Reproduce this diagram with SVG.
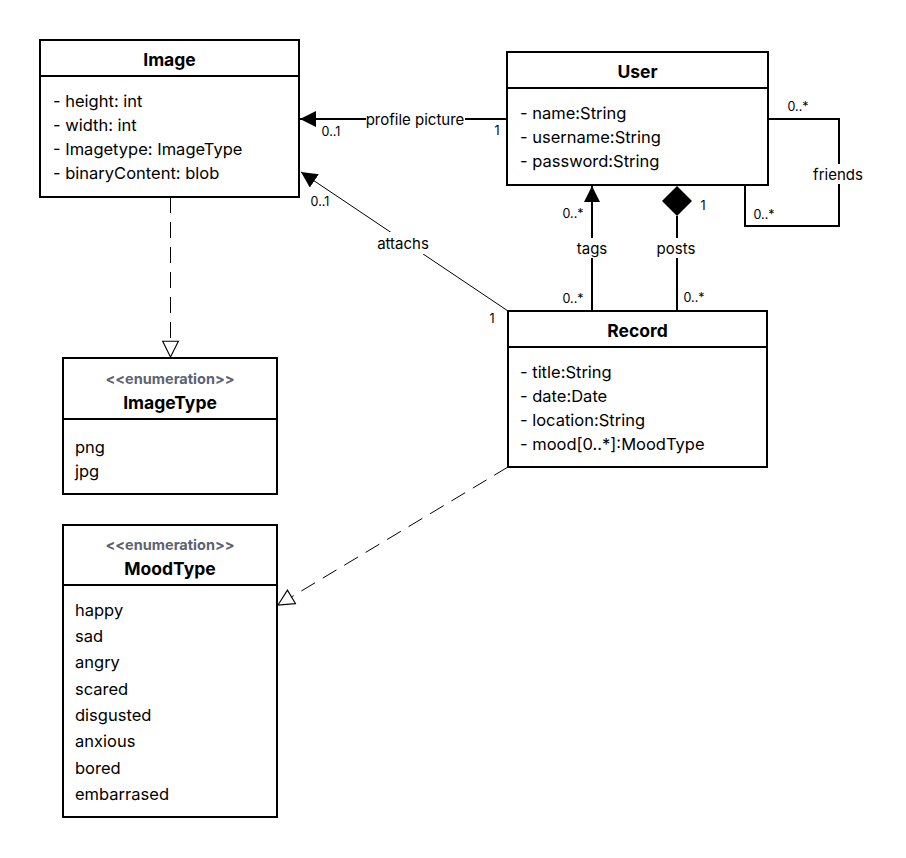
<svg xmlns="http://www.w3.org/2000/svg" width="906" height="858" viewBox="0 0 906 858">
  <defs>
    <style>
      .box { fill: #ffffff; stroke: #000000; stroke-width: 2; }
      .sep { stroke: #000000; stroke-width: 2; }
      .title { font-family: Inter, "Liberation Sans", sans-serif; font-size: 17.5px; font-weight: bold; fill: #000000; text-anchor: middle; dominant-baseline: central; }
      .stereo { font-family: Inter, "Liberation Sans", sans-serif; font-size: 14.5px; font-weight: bold; fill: #5c6370; text-anchor: middle; dominant-baseline: central; }
      .attr { font-family: Inter, "Liberation Sans", sans-serif; font-size: 16.5px; fill: #000000; dominant-baseline: central; }
      .lbl { font-family: Inter, "Liberation Sans", sans-serif; font-size: 15px; fill: #000000; text-anchor: middle; dominant-baseline: central; }
      .mult { font-family: Inter, "Liberation Sans", sans-serif; font-size: 12.5px; fill: #000000; text-anchor: middle; dominant-baseline: central; }
      .assoc { fill: none; stroke: #000000; stroke-width: 2; }
      .thin { fill: none; stroke: #000000; stroke-width: 1; }
      .dashed { fill: none; stroke: #000000; stroke-width: 1; stroke-dasharray: 16 9; }
      .bg { fill: #ffffff; }
    </style>
    <marker id="arrowFilled" markerUnits="userSpaceOnUse" markerWidth="16" markerHeight="16" viewBox="0 0 14 14" refX="14" refY="7" orient="auto">
      <path d="M0,0 L14,7 L0,14 Z" fill="#000000"/>
    </marker>
    <marker id="arrowHollow" markerUnits="userSpaceOnUse" markerWidth="18" markerHeight="18" viewBox="-1 -1 16 16" refX="14" refY="7" orient="auto">
      <path d="M0,0 L14,7 L0,14 Z" fill="#ffffff" stroke="#000000" stroke-width="1"/>
    </marker>
  </defs>

  <rect width="906" height="858" fill="#ffffff"/>

  <!-- connectors -->
  <g id="connectors">
    <!-- User -> Image : profile picture -->
    <line class="assoc" x1="507" y1="119" x2="300" y2="119" marker-end="url(#arrowFilled)"/>
    <rect class="bg" x="366" y="110" width="99" height="18"/>
    <text class="lbl" x="415" y="119">profile picture</text>
    <text class="mult" x="331" y="131">0..1</text>
    <text class="mult" x="497" y="130">1</text>

    <!-- Record -> Image : attachs -->
    <line class="thin" x1="508" y1="311" x2="301" y2="172" marker-end="url(#arrowFilled)"/>
    <rect class="bg" x="375" y="232" width="56" height="22"/>
    <text class="lbl" x="403" y="243">attachs</text>
    <text class="mult" x="320" y="201">0..1</text>
    <text class="mult" x="492" y="318">1</text>

    <!-- Record -> User : tags -->
    <line class="assoc" x1="592" y1="311" x2="592" y2="186" marker-end="url(#arrowFilled)"/>
    <rect class="bg" x="575" y="238" width="34" height="20"/>
    <text class="lbl" x="592" y="248">tags</text>
    <text class="mult" x="573" y="213">0..*</text>
    <text class="mult" x="573" y="298">0..*</text>

    <!-- User <>- Record : posts (composition) -->
    <line class="assoc" x1="677" y1="216" x2="677" y2="311"/>
    <path d="M677,186 L692,201 L677,216 L662,201 Z" fill="#000000"/>
    <rect class="bg" x="655" y="238" width="43" height="20"/>
    <text class="lbl" x="676" y="248">posts</text>
    <text class="mult" x="703" y="205">1</text>
    <text class="mult" x="694" y="297">0..*</text>

    <!-- User self-association : friends -->
    <polyline class="assoc" points="768,119 839,119 839,226 745,226 745,185"/>
    <rect class="bg" x="812" y="164" width="52" height="20"/>
    <text class="lbl" x="838" y="174">friends</text>
    <text class="mult" x="798" y="106">0..*</text>
    <text class="mult" x="764" y="214">0..*</text>

    <!-- Image uses ImageType -->
    <line class="dashed" x1="170.5" y1="197" x2="170.5" y2="357" marker-end="url(#arrowHollow)"/>

    <!-- Record uses MoodType -->
    <line class="dashed" x1="508" y1="467" x2="278" y2="605" marker-end="url(#arrowHollow)"/>
  </g>

  <!-- Image -->
  <g id="image">
    <rect class="box" x="40" y="40" width="259" height="157"/>
    <line class="sep" x1="40" y1="76" x2="299" y2="76"/>
    <text class="title" x="169.5" y="59">Image</text>
    <text class="attr" x="53" y="101">- height: int</text>
    <text class="attr" x="53" y="125">- width: int</text>
    <text class="attr" x="53" y="149">- Imagetype: ImageType</text>
    <text class="attr" x="53" y="173">- binaryContent: blob</text>
  </g>

  <!-- User -->
  <g id="user">
    <rect class="box" x="507" y="52" width="261" height="133"/>
    <line class="sep" x1="507" y1="88" x2="768" y2="88"/>
    <text class="title" x="637.5" y="71">User</text>
    <text class="attr" x="520" y="113">- name:String</text>
    <text class="attr" x="520" y="137">- username:String</text>
    <text class="attr" x="520" y="161">- password:String</text>
  </g>

  <!-- Record -->
  <g id="record">
    <rect class="box" x="508" y="311" width="259" height="156"/>
    <line class="sep" x1="508" y1="347" x2="767" y2="347"/>
    <text class="title" x="637.5" y="330">Record</text>
    <text class="attr" x="520" y="372">- title:String</text>
    <text class="attr" x="520" y="396">- date:Date</text>
    <text class="attr" x="520" y="420">- location:String</text>
    <text class="attr" x="520" y="444">- mood[0..*]:MoodType</text>
  </g>

  <!-- ImageType enumeration -->
  <g id="imagetype">
    <rect class="box" x="63" y="358" width="214" height="136"/>
    <line class="sep" x1="63" y1="419" x2="277" y2="419"/>
    <text class="stereo" x="170" y="378">&lt;&lt;enumeration&gt;&gt;</text>
    <text class="title" x="170" y="402">ImageType</text>
    <text class="attr" x="75" y="447">png</text>
    <text class="attr" x="75" y="471">jpg</text>
  </g>

  <!-- MoodType enumeration -->
  <g id="moodtype">
    <rect class="box" x="63" y="525" width="214" height="292"/>
    <line class="sep" x1="63" y1="585" x2="277" y2="585"/>
    <text class="stereo" x="170" y="544">&lt;&lt;enumeration&gt;&gt;</text>
    <text class="title" x="170" y="568">MoodType</text>
    <text class="attr" x="75" y="610">happy</text>
    <text class="attr" x="75" y="636">sad</text>
    <text class="attr" x="75" y="662">angry</text>
    <text class="attr" x="75" y="689">scared</text>
    <text class="attr" x="75" y="715">disgusted</text>
    <text class="attr" x="75" y="741">anxious</text>
    <text class="attr" x="75" y="768">bored</text>
    <text class="attr" x="75" y="794">embarrased</text>
  </g>
</svg>
